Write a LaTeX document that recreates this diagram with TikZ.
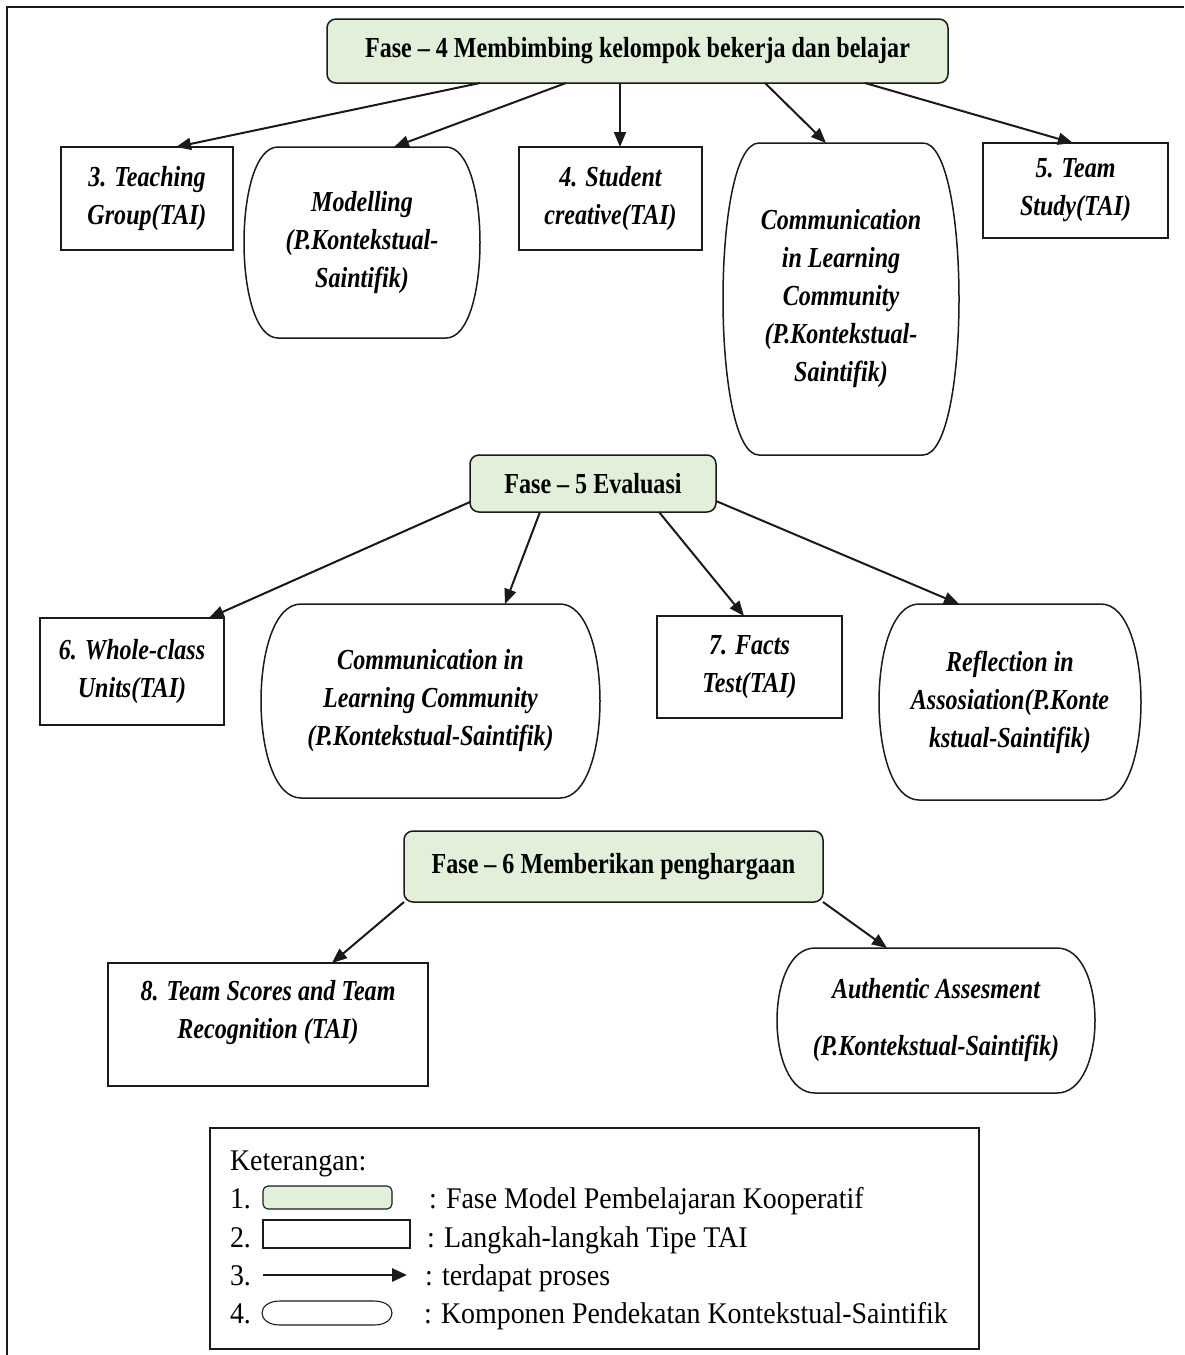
\documentclass[tikz,border=0pt]{standalone}
\usepackage{fontspec}
\setmainfont{Liberation Serif}
\newfontfamily\narrowserif[Ligatures=TeX,FakeStretch=0.83]{Liberation Serif}
\newfontfamily\legendserif[Ligatures=TeX,FakeStretch=0.93]{Liberation Serif}
\usetikzlibrary{arrows.meta,calc}

\definecolor{phasefill}{HTML}{E2EFD9}
\definecolor{edge}{HTML}{1A1A1A}

\newcommand\nodefont{\narrowserif\fontsize{29}{38}\selectfont\bfseries\itshape}
% outline of a terminator-like shape (straight top/bottom, bulging sides)
\newcommand\ctxoutline[2]{%
  \draw[ctxline] ([xshift=#2pt]#1.north west) -- ([xshift=-#2pt]#1.north east)
    .. controls ([xshift=#2pt/3]#1.north east) and ([xshift=#2pt/3]#1.south east) .. ([xshift=-#2pt]#1.south east)
    -- ([xshift=#2pt]#1.south west)
    .. controls ([xshift=-#2pt/3]#1.south west) and ([xshift=-#2pt/3]#1.north west) .. cycle;}

\begin{document}
\begin{tikzpicture}[x=1pt,y=-1pt,
  every node/.style={inner sep=0pt, outer sep=0pt},
  wh/.style 2 args={minimum width=#1pt, minimum height=#2pt},
  phase/.style={draw=edge, line width=1.5pt, fill=phasefill, rounded corners=9pt,
    anchor=north west, align=center, font=\narrowserif\fontsize{29}{34}\selectfont\bfseries},
  taibox/.style={draw=edge, line width=1.5pt, anchor=north west, align=center, font=\nodefont},
  ctxbox/.style={anchor=north west, align=center, font=\nodefont},
  ctxline/.style={draw=edge, line width=1.5pt},
  flow/.style={draw=edge, line width=2pt, -{Triangle[length=15pt,width=12pt]}},
  legtext/.style={anchor=base west, font=\legendserif\fontsize{30}{36}\selectfont},
]
\useasboundingbox (0,0) rectangle (1184,1355);

% page frame
\draw[line width=2.4pt, edge] (7,1355) -- (7,7) -- (1184,7);

% ---------- Phase 4 ----------
\node[phase, wh={621}{64}] (f4) at (327,19) {Fase -- 4 Membimbing kelompok bekerja dan belajar};

\node[taibox, wh={172}{103}] (t3) at (61,147) {3. Teaching\\Group(TAI)};
\node[ctxbox, wh={236}{191}] (m1) at (244,147) {Modelling\\(P.Kontekstual-\\Saintifik)};
\ctxoutline{m1}{34}
\node[taibox, wh={183}{103}] (t4) at (519,147) {4. Student\\creative(TAI)};
\node[ctxbox, wh={236}{312}] (c1) at (723,143) {Communication\\in Learning\\Community\\(P.Kontekstual-\\Saintifik)};
\ctxoutline{c1}{36}
\node[taibox, wh={185}{95}] (t5) at (983,143) {5. Team\\Study(TAI)};

\draw[flow] ([xshift=153pt]f4.south west) -- ([xshift=115pt]t3.north west);
\draw[flow] ([xshift=239pt]f4.south west) -- ([xshift=150pt]m1.north west);
\draw[flow] ([xshift=293pt]f4.south west) -- ([xshift=101pt]t4.north west);
\draw[flow] ([xshift=438pt]f4.south west) -- ([xshift=103pt]c1.north west);
\draw[flow] ([xshift=538pt]f4.south west) -- ([xshift=90pt]t5.north west);

% ---------- Phase 5 ----------
\node[phase, wh={246}{57}] (f5) at (470,455) {Fase -- 5 Evaluasi};

\node[taibox, wh={184}{107}] (t6) at (40,618) {6. Whole-class\\Units(TAI)};
\node[ctxbox, wh={339}{194}] (c2) at (261,604) {Communication in\\Learning Community\\(P.Kontekstual-Saintifik)};
\ctxoutline{c2}{40}
\node[taibox, wh={185}{102}] (t7) at (657,616) {7. Facts\\Test(TAI)};
\node[ctxbox, wh={262}{196}] (c3) at (879,604) {Reflection in\\Assosiation(P.Konte\\kstual-Saintifik)};
\ctxoutline{c3}{40}

\draw[flow] ([yshift=10pt]f5.south west) -- ([xshift=169pt]t6.north west);
\draw[flow] ([xshift=70pt]f5.south west) -- ([xshift=244pt]c2.north west);
\draw[flow] ([xshift=189pt]f5.south west) -- ([xshift=87pt]t7.north west);
\draw[flow] ([yshift=11pt]f5.south east) -- ([xshift=80pt]c3.north west);

% ---------- Phase 6 ----------
\node[phase, wh={419}{71}] (f6) at (404,831) {Fase -- 6 Memberikan penghargaan};

\node[taibox, wh={320}{123}] (t8) at (108,963)
  {\parbox[c][89pt][t]{310pt}{\centering 8. Team Scores and Team\\Recognition (TAI)}};
\node[ctxbox, wh={318}{145}] (c4) at (777,948) {Authentic Assesment\\[19pt](P.Kontekstual-Saintifik)};
\ctxoutline{c4}{38}

\draw[flow] (f6.south west) -- ([xshift=224pt]t8.north west);
\draw[flow] (f6.south east) -- ([xshift=110pt]c4.north west);

% ---------- Legend ----------
\node[draw=edge, line width=1.9pt, anchor=north west, wh={769}{221}] (legend) at (210,1128) {};
\node[legtext] (lk) at (230,1170) {Keterangan:};
\node[legtext] (l1) at (230,1208) {1.};
\node[legtext] (l2) at (230,1247) {2.};
\node[legtext] (l3) at (230,1285) {3.};
\node[legtext] (l4) at (230,1323) {4.};

\node[phase, wh={129}{23}, rounded corners=5pt, line width=1.1pt] (k1) at (263,1186) {};
\node[taibox, wh={147}{28}, line width=1.1pt] (k2) at (263,1220) {};
\coordinate (k3a) at (263,1275);
\coordinate (k3b) at (407,1275);
\draw[draw=edge, line width=2.8pt, -{Triangle[length=15pt,width=13pt]}] (k3a) -- (k3b);
\node[ctxbox, wh={130}{24}] (k4) at (262,1301) {};
\draw[ctxline, line width=1.1pt] ([xshift=18pt]k4.north west) -- ([xshift=-18pt]k4.north east)
    .. controls ([xshift=6pt]k4.north east) and ([xshift=6pt]k4.south east) .. ([xshift=-18pt]k4.south east)
    -- ([xshift=18pt]k4.south west)
    .. controls ([xshift=-6pt]k4.south west) and ([xshift=-6pt]k4.north west) .. cycle;

\node[legtext] (d1) at (429,1208) {: Fase Model Pembelajaran Kooperatif};
\node[legtext] (d2) at (427,1247) {: Langkah-langkah Tipe TAI};
\node[legtext] (d3) at (425,1285) {: terdapat proses};
\node[legtext] (d4) at (424,1323) {: Komponen Pendekatan Kontekstual-Saintifik};
\end{tikzpicture}
\end{document}
